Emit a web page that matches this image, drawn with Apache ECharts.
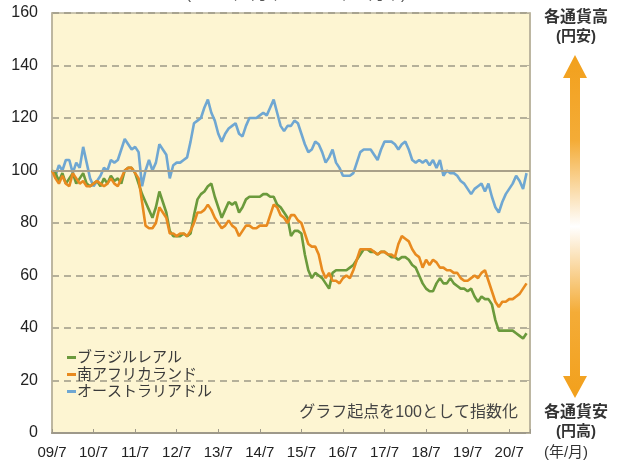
<!DOCTYPE html>
<html><head><meta charset="utf-8">
<script src="https://cdn.jsdelivr.net/npm/echarts@6/dist/echarts.min.js"></script>
<style>html,body{margin:0;padding:0;background:#fff}#c{width:618px;height:465px}</style>
</head><body><div id="c"></div>
<script>
var xTickLabels = ["09/7","10/7","11/7","12/7","13/7","14/7","15/7","16/7","17/7","18/7","19/7","20/7"];
var seriesNames = ["ブラジルレアル","南アフリカランド","オーストラリアドル"];
// monthly index, 2009/7 = month 0 ... 2020/12 = month 137
var brl = [100,99,96,99,95,97,99,95,97,99,95,94,95,96,94,97,95,98,96,97,95,100,101,101,99,95,91,88,85,82,
86,92,88,84,77,75,75,75,76,75,76,83,89,91,92,94,95,90,86,82,85,88,87,88,84,86,89,90,90,90,
90,91,91,90,90,87,86,84,82,75,77,77,76,68,62,59,61,60,59,57,55,61,62,62,62,62,63,64,66,68,
70,70,69,69,68,69,69,68,67,67,66,67,67,66,64,63,60,57,55,54,54,57,59,57,57,59,57,56,55,55,
54,55,52,50,52,51,51,49,43,39,39,39,39,39,38,37,36,38];
var zar = [100,97,95,98,95,94,99,97,95,96,94,94,95,96,95,94,95,97,95,94,97,100,101,101,99,97,88,79,78,78,
80,86,84,82,76,76,75,76,76,75,77,80,84,84,85,87,85,82,80,78,79,81,79,78,75,77,79,79,78,78,
79,79,79,83,87,86,83,82,80,83,83,81,80,76,72,71,71,68,62,59,61,58,58,57,59,60,59,62,66,70,
70,70,70,69,68,69,69,68,68,67,72,75,74,73,70,68,67,63,66,64,66,65,63,63,62,62,61,61,59,58,
58,59,60,59,61,62,58,54,50,48,50,50,51,51,52,53,55,57];
var aud = [100,98,102,100,104,104,99,103,101,109,103,97,94,96,98,101,100,104,103,104,108,112,110,108,109,107,94,100,104,100,
103,110,108,106,97,102,103,103,104,105,111,118,119,120,124,127,122,119,114,111,114,116,117,118,114,113,117,120,120,120,
121,122,121,124,127,122,117,115,117,117,119,118,114,110,107,108,111,110,107,103,105,108,103,101,98,98,98,99,103,107,
108,108,108,106,104,108,111,111,111,110,108,110,111,108,104,103,104,103,104,102,104,101,104,98,100,99,99,98,96,95,
93,91,93,94,95,92,95,90,86,84,88,91,93,95,98,96,93,99];
var yTicks = [0,20,40,60,80,100,120,140,160];

function pairs(arr){ return arr.map(function(v,i){ return [i,v]; }); }
var chart = echarts.init(document.getElementById('c'), null, {renderer:'canvas'});
var FF = '"Liberation Sans","Noto Sans CJK JP",sans-serif';
var colors = ['#6b9a3c','#e88a1f','#6fa7d2'];
var option = {
  animation:false,
  textStyle:{fontFamily:FF},
  grid:{left:52,right:88,top:13,bottom:32,show:true,backgroundColor:'#fdf5d2',borderColor:'#b8b29c',borderWidth:1.5},
  xAxis:{type:'value',min:0,max:138,interval:12,
    axisLine:{lineStyle:{color:'#9e998a',width:2}},
    axisTick:{inside:true,length:4,lineStyle:{color:'#9e998a'}},
    splitLine:{show:false},
    axisLabel:{margin:12,fontSize:15,color:'#222',fontFamily:FF,
      formatter:function(v){ var i=v/12; return (i===Math.round(i) && xTickLabels[i]) ? xTickLabels[i] : ''; }}
  },
  yAxis:[{type:'value',min:yTicks[0],max:yTicks[yTicks.length-1],interval:20,
    axisLine:{show:true,lineStyle:{color:'#b8b29c',width:1.5}},
    axisTick:{show:false},
    axisLabel:{margin:14,fontSize:16,color:'#222',fontFamily:FF},
    splitLine:{show:true,lineStyle:{color:'#9d9987',width:1.5,type:[7,5]}}
  },{type:'value',position:'right',min:0,max:160,interval:20,
    axisLine:{show:true,lineStyle:{color:'#b8b29c',width:1.5}},
    axisTick:{show:true,inside:true,length:4,lineStyle:{color:'#b8b29c'}},
    axisLabel:{show:false},splitLine:{show:false}}],
  legend:{orient:'vertical',left:62,top:345,itemWidth:9,itemHeight:3,icon:'rect',itemGap:2,
    textStyle:{fontSize:15,color:'#3a3a3a',padding:[0,0,0,-4]},
    data:seriesNames},
  series:[
    {name:seriesNames[0],type:'line',data:pairs(brl),symbol:'none',lineStyle:{width:2.6,color:colors[0]},itemStyle:{color:colors[0]},z:3},
    {name:seriesNames[1],type:'line',data:pairs(zar),symbol:'none',lineStyle:{width:2.6,color:colors[1]},itemStyle:{color:colors[1]},z:4},
    {name:seriesNames[2],type:'line',data:pairs(aud),symbol:'none',lineStyle:{width:2.6,color:colors[2]},itemStyle:{color:colors[2]},z:2,
      markLine:{silent:true,symbol:'none',label:{show:false},lineStyle:{type:'solid',color:'#a9a089',width:2},data:[{yAxis:100}]}}
  ],
  graphic:[
    {type:'text',style:{text:'(2009年7月末～2020年12月末)',x:296,y:3,textAlign:'center',textVerticalAlign:'bottom',fontSize:16,fill:'#555',fontFamily:FF}},
    {type:'text',style:{text:'グラフ起点を100として指数化',x:518,y:413,textAlign:'right',textVerticalAlign:'middle',fontSize:16,fill:'#444',fontFamily:FF}},
    {type:'text',style:{text:'各通貨高',x:576,y:18,textAlign:'center',textVerticalAlign:'middle',fontSize:16,fontWeight:'bold',fill:'#333',fontFamily:FF}},
    {type:'text',style:{text:'(円安)',x:576,y:37,textAlign:'center',textVerticalAlign:'middle',fontSize:15,fontWeight:'bold',fill:'#333',fontFamily:FF}},
    {type:'text',style:{text:'各通貨安',x:576,y:413,textAlign:'center',textVerticalAlign:'middle',fontSize:16,fontWeight:'bold',fill:'#333',fontFamily:FF}},
    {type:'text',style:{text:'(円高)',x:576,y:432,textAlign:'center',textVerticalAlign:'middle',fontSize:15,fontWeight:'bold',fill:'#333',fontFamily:FF}},
    {type:'text',style:{text:'(年/月)',x:566,y:453,textAlign:'center',textVerticalAlign:'middle',fontSize:15,fill:'#333',fontFamily:FF}},
    {type:'polygon',shape:{points:[[575,55],[587,78],[580,78],[580,376],[587,376],[575,398],[563,376],[570,376],[570,78],[563,78]]},
      style:{fill:new echarts.graphic.LinearGradient(0,0,0,1,[
        {offset:0,color:'#f2a01c'},{offset:0.25,color:'#f4ac37'},{offset:0.5,color:'#ffffff'},{offset:0.75,color:'#f4ac37'},{offset:1,color:'#f2a01c'}])}}
  ]
};
chart.setOption(option);
</script></body></html>
